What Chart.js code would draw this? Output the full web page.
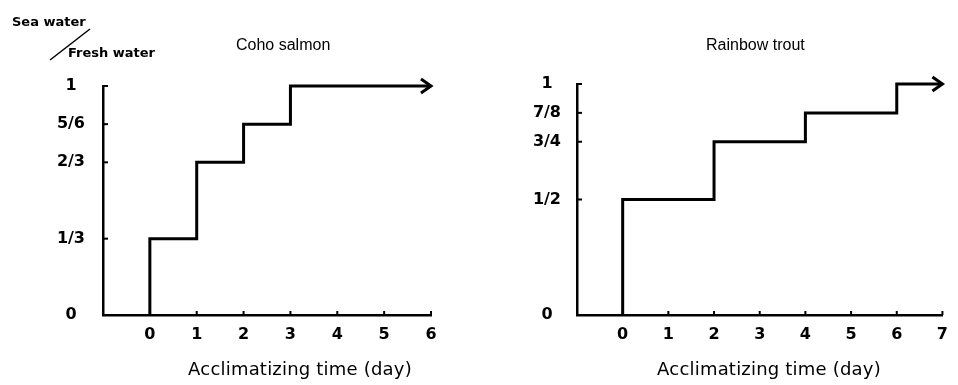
<!DOCTYPE html>
<html>
<head>
<meta charset="utf-8">
<script src="https://cdn.jsdelivr.net/npm/chart.js@4.4.0/dist/chart.umd.min.js"></script>
<style>
  html, body { margin: 0; padding: 0; background: #fff; }
  #page { position: relative; width: 958px; height: 385px; overflow: hidden; font-family: "Liberation Sans", Arial, sans-serif; color: #000; }
  .panel { position: absolute; top: 0; width: 479px; height: 385px; }
  .label { position: absolute; white-space: nowrap; line-height: 1; }
  .title { font-size: 16px; }
  .axis-title { font-family: "DejaVu Sans", sans-serif; font-size: 18px; letter-spacing: 0.2px; transform: translateX(-50%); }
  .corner { font-family: "DejaVu Sans", sans-serif; font-weight: bold; font-size: 13px; }
</style>
</head>
<body>
<div id="page">
  <div class="panel" style="left:0"><canvas id="cohoChart" width="479" height="385"></canvas></div>
  <div class="panel" style="left:479px"><canvas id="troutChart" width="479" height="385"></canvas></div>

  <div class="label corner" style="left:12px;top:15px">Sea water</div>
  <div class="label corner" style="left:68px;top:46px">Fresh water</div>
  <div class="label title" style="left:236px;top:37px">Coho salmon</div>
  <div class="label title" style="left:706px;top:37px">Rainbow trout</div>
  <div class="label axis-title" style="left:300px;top:360px">Acclimatizing time (day)</div>
  <div class="label axis-title" style="left:769px;top:360px">Acclimatizing time (day)</div>
</div>
<script>
// Coho salmon: day the salinity was raised, and the sea water ratio reached
const cohoDays = [0, 1, 2, 3];
const cohoRatios = [1 / 3, 2 / 3, 5 / 6, 1];
const cohoEndDay = 6;
const cohoDayTicks = [0, 1, 2, 3, 4, 5, 6];
const cohoRatioTicks = [0, 1 / 3, 2 / 3, 5 / 6, 1];
const cohoRatioLabels = ['0', '1/3', '2/3', '5/6', '1'];

// Rainbow trout
const troutDays = [0, 2, 4, 6];
const troutRatios = [1 / 2, 3 / 4, 7 / 8, 1];
const troutEndDay = 7;
const troutDayTicks = [0, 1, 2, 3, 4, 5, 6, 7];
const troutRatioTicks = [0, 1 / 2, 3 / 4, 7 / 8, 1];
const troutRatioLabels = ['0', '1/2', '3/4', '7/8', '1'];

function stepPoints(days, ratios, endDay) {
    const points = [{ x: days[0], y: 0 }];
    for (let i = 0; i < days.length; i++) {
        points.push({ x: days[i], y: ratios[i] });
        const next = i + 1 < days.length ? days[i + 1] : endDay;
        points.push({ x: next, y: ratios[i] });
    }
    return points;
}

// inward tick nubs, arrow head on the last segment, and the corner slash
const decorations = {
    id: 'decorations',
    afterDatasetsDraw(chart, args, opts) {
        const ctx = chart.ctx;
        const xs = chart.scales.x;
        const ys = chart.scales.y;
        ctx.save();
        ctx.strokeStyle = '#000';
        ctx.lineWidth = 2;
        ys.ticks.forEach(function(t) {
            const py = ys.getPixelForValue(t.value);
            ctx.beginPath();
            ctx.moveTo(xs.left, py);
            ctx.lineTo(xs.left + 5, py);
            ctx.stroke();
        });
        xs.ticks.forEach(function(t) {
            const px = xs.getPixelForValue(t.value);
            ctx.beginPath();
            ctx.moveTo(px, ys.bottom);
            ctx.lineTo(px, ys.bottom - 4);
            ctx.stroke();
        });

        const data = chart.data.datasets[0].data;
        const last = data[data.length - 1];
        const tipX = xs.getPixelForValue(last.x);
        const tipY = ys.getPixelForValue(last.y);
        ctx.lineWidth = 3;
        ctx.lineJoin = 'miter';
        ctx.beginPath();
        ctx.moveTo(tipX - 10, tipY - 7);
        ctx.lineTo(tipX, tipY);
        ctx.lineTo(tipX - 10, tipY + 7);
        ctx.stroke();

        if (opts.slash) {
            ctx.lineWidth = 1.5;
            ctx.beginPath();
            ctx.moveTo(50, 60);
            ctx.lineTo(90, 29);
            ctx.stroke();
        }
        ctx.restore();
    }
};

function makeChart(canvasId, days, ratios, endDay, dayTicks, ratioTicks, ratioLabels, layout) {
    const tickFont = { family: 'DejaVu Sans', size: 16, weight: 'bold' };
    return new Chart(document.getElementById(canvasId), {
        type: 'line',
        data: {
            datasets: [{
                data: stepPoints(days, ratios, endDay),
                borderColor: '#000',
                borderWidth: 3,
                pointRadius: 0,
                tension: 0,
                clip: false,
                borderJoinStyle: 'miter'
            }]
        },
        plugins: [decorations],
        options: {
            responsive: false,
            animation: false,
            devicePixelRatio: 1,
            layout: { padding: { left: 0, right: layout.right, top: layout.top, bottom: 0 } },
            plugins: {
                legend: { display: false },
                tooltip: { enabled: false },
                decorations: { slash: layout.slash }
            },
            scales: {
                x: {
                    type: 'linear',
                    min: -1,
                    max: endDay,
                    afterBuildTicks: function(s) { s.ticks = dayTicks.map(v => ({ value: v })); },
                    afterFit: function(s) { s.height = 70; },
                    grid: { display: false, drawTicks: false },
                    border: { display: true, color: '#000', width: 2.5 },
                    ticks: {
                        color: '#000',
                        padding: 10,
                        maxRotation: 0,
                        font: tickFont,
                        callback: v => String(v)
                    }
                },
                y: {
                    type: 'linear',
                    min: 0,
                    max: 1,
                    afterBuildTicks: function(s) { s.ticks = ratioTicks.map(v => ({ value: v })); },
                    afterFit: function(s) { s.width = layout.yWidth; },
                    grid: { display: false, drawTicks: false },
                    border: { display: true, color: '#000', width: 2.5 },
                    ticks: {
                        color: '#000',
                        padding: layout.labelPad,
                        crossAlign: 'center',
                        font: tickFont,
                        callback: (v, i) => ratioLabels[i]
                    }
                }
            }
        }
    });
}

makeChart('cohoChart', cohoDays, cohoRatios, cohoEndDay, cohoDayTicks, cohoRatioTicks, cohoRatioLabels,
    { yWidth: 103, right: 48, top: 86, labelPad: 18, slash: true });
makeChart('troutChart', troutDays, troutRatios, troutEndDay, troutDayTicks, troutRatioTicks, troutRatioLabels,
    { yWidth: 98, right: 10, top: 84, labelPad: 16, slash: false });
</script>
</body>
</html>
